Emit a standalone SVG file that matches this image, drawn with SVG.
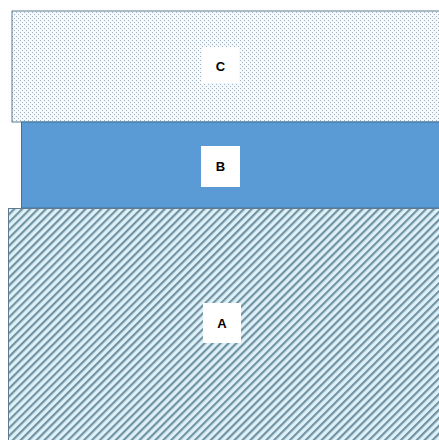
<svg xmlns="http://www.w3.org/2000/svg" width="439" height="440" viewBox="0 0 439 440">
<style>
.lbl{font-family:"Liberation Sans",Arial,sans-serif;font-weight:bold;font-size:13px;fill:#000;text-anchor:middle;dominant-baseline:central}
.lb{fill:#fff}
</style>
<defs>
<pattern id="dots" width="4" height="4" patternUnits="userSpaceOnUse">
<rect width="4" height="4" fill="#f7fafc"/>
<rect x="0" y="0" width="1" height="1" fill="#9db3c3"/>
<rect x="2" y="2" width="1" height="1" fill="#9db3c3"/>
</pattern>
<pattern id="stripes" width="5.6" height="5.6" patternUnits="userSpaceOnUse" patternTransform="rotate(45)">
<rect width="5.6" height="5.6" fill="#dff1f6"/>
<rect x="0" y="0" width="2.2" height="5.6" fill="#6f93a5"/>
</pattern>
</defs>
<rect width="439" height="440" fill="#fff"/>
<g id="C">
<rect x="12" y="11" width="432" height="111" fill="url(#dots)" stroke="#5f7a8c" stroke-width="1"/>
<rect class="lb" x="202" y="47" width="37" height="36"/>
<text class="lbl" x="220.5" y="66">C</text>
</g>
<g id="B">
<rect x="21.5" y="122" width="422" height="86" fill="#5b9bd5" stroke="#41719c" stroke-width="1"/>
<rect class="lb" x="201" y="146" width="39" height="41"/>
<text class="lbl" x="220.5" y="166">B</text>
</g>
<g id="A">
<rect x="8.5" y="208.5" width="436" height="236" fill="url(#stripes)" stroke="#5f7a8c" stroke-width="1"/>
<rect class="lb" x="203" y="303" width="38" height="40"/>
<text class="lbl" x="222" y="323">A</text>
</g>
<g id="connectors"/>
</svg>
